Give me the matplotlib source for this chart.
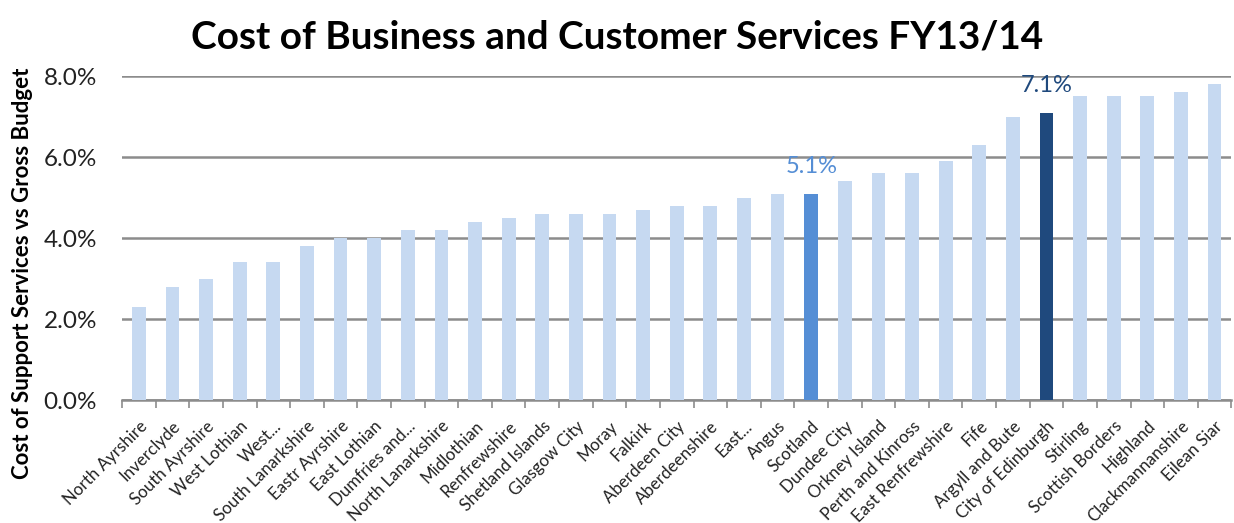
import matplotlib
matplotlib.use("Agg")
import matplotlib.pyplot as plt
import numpy as np
from matplotlib.ticker import FuncFormatter, FixedLocator

categories = ["North Ayrshire", "Inverclyde", "South Ayrshire", "West Lothian", "West...",
              "South Lanarkshire", "Eastr Ayrshire", "East Lothian", "Dumfries and...",
              "North Lanarkshire", "Midlothian", "Renfrewshire", "Shetland Islands",
              "Glasgow City", "Moray", "Falkirk", "Aberdeen City", "Aberdeenshire", "East...",
              "Angus", "Scotland", "Dundee City", "Orkney Island", "Perth and Kinross",
              "East Renfrewshire", "Fife", "Argyll and Bute", "City of Edinburgh", "Stirling",
              "Scottish Borders", "Highland", "Clackmannanshire", "Eilean Siar"]
values = [2.3, 2.8, 3.0, 3.4, 3.4, 3.8, 4.0, 4.0, 4.2, 4.2, 4.4, 4.5, 4.6, 4.6, 4.6, 4.7,
          4.8, 4.8, 5.0, 5.1, 5.1, 5.4, 5.6, 5.6, 5.9, 6.3, 7.0, 7.1, 7.5, 7.5, 7.5, 7.6, 7.8]
highlight = {"Scotland": "#558ED5", "City of Edinburgh": "#1F497D"}
title = "Cost of Business and Customer Services FY13/14"
ylabel = "Cost of Support Services vs Gross Budget"

plt.rcParams['font.family'] = ['Lato', 'DejaVu Sans']

fig = plt.figure(figsize=(12.34, 5.23), dpi=100)
ax = fig.add_axes([0.0989, 0.235, 0.899, 0.6195])

x = np.arange(len(categories))
colors = [highlight.get(c, "#C6D9F1") for c in categories]
ax.bar(x, values, width=0.41, color=colors, zorder=3)

for c, col in highlight.items():
    i = categories.index(c)
    ax.text(i, values[i] + 0.42, f"{values[i]:.1f}%", ha="center", va="bottom",
            color=col, fontsize=17)

ax.set_xlim(-0.5, len(categories) - 0.5)
ax.set_ylim(0, 8)
ax.set_yticks([0, 2, 4, 6, 8])
ax.yaxis.set_major_formatter(FuncFormatter(lambda v, p: f"{v:.1f}%"))
ax.grid(axis="y", color="#8C8C8C", linewidth=1.8, zorder=0)
ax.set_axisbelow(True)

ax.set_xticks(x)
ax.set_xticklabels(categories, rotation=45, ha="right", rotation_mode="anchor",
                   fontsize=12.2, color="#222222")
ax.xaxis.set_minor_locator(FixedLocator(np.arange(-0.5, len(categories), 1.0)))
ax.tick_params(axis="x", which="major", length=0, pad=13)
ax.tick_params(axis="x", which="minor", length=6, color="#8C8C8C", width=1.2)
ax.tick_params(axis="y", length=0, labelsize=17.5, labelcolor="#222222", pad=18)

for s in ["top", "right", "left"]:
    ax.spines[s].set_visible(False)
ax.spines["bottom"].set_color("#8C8C8C")
ax.spines["bottom"].set_linewidth(1.8)

fig.text(0.5, 0.93, title, ha="center", va="center", fontsize=27.9, fontweight="bold")
fig.text(0.018, 0.478, ylabel, rotation=90, ha="center", va="center",
         fontsize=16, fontweight="bold")

fig.savefig("out.png", dpi=100)
